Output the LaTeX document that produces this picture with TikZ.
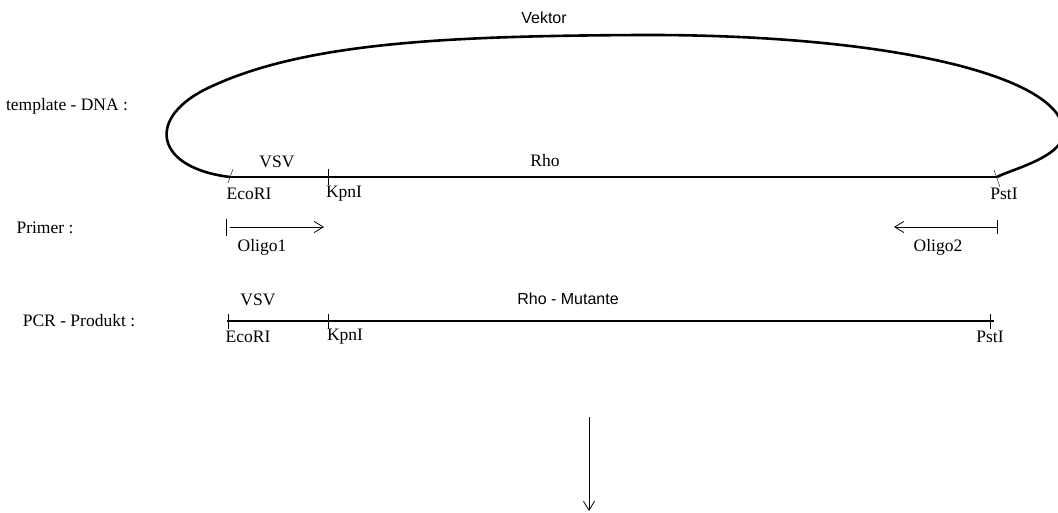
\documentclass[tikz,border=0pt]{standalone}
\usepackage{fontspec}
\setmainfont{Liberation Serif}
\newfontfamily\arial{Liberation Sans}
\usetikzlibrary{arrows.meta,calc}
\definecolor{thin}{RGB}{125,125,125}
\tikzset{
  lbl/.style={inner sep=0pt, font=\fontsize{17.5}{20}\selectfont},
  slbl/.style={inner sep=0pt, font=\arial\fontsize{16}{19}\selectfont},
  dna/.style={line width=2.6pt, black},
  pcr/.style={line width=2pt, black},
  site/.style={line width=0.7pt, thin},
  oligo/.style={line width=0.8pt, thin, -{Straight Barb[length=9pt,width=11pt,line width=0.8pt]}},
}
\begin{document}
\begin{tikzpicture}[x=1pt,y=-1pt]
\useasboundingbox (0,0) rectangle (1058,513);
\clip (0,0) rectangle (1058,513);

% row labels
\node[lbl] (tdna) at (67,106) {template - DNA :};
\node[lbl] (primer) at (45,228) {Primer :};
\node[lbl] (pcrl) at (79,321) {PCR - Produkt :};

% template: vector loop and insert
\coordinate (e1) at (230,177);
\coordinate (k1) at (328,177);
\coordinate (p1) at (997,177);
\draw[dna] (e1) .. controls (156,168) and (146,120) .. (204,90)
  .. controls (300,42) and (450,36) .. (640,35)
  .. controls (900,34) and (1080,80) .. (1062,140)
  .. controls (1052,160) and (1010,170) .. (p1);
\draw[dna] (e1) -- (p1);
\node[slbl] (vektor) at (544,18) {Vektor};
\node[lbl] (vsv1) at (277,162) {VSV};
\node[lbl] (rho1) at (545,161) {Rho};
\draw[site] ($(e1)+(3,-8)$) -- ($(e1)+(-2,6)$);
\draw[site] ($(k1)+(0,-8)$) -- ($(k1)+(0,8)$);
\draw[site] ($(p1)+(-3,-7)$) -- ($(p1)+(3,10)$);
\node[lbl] (eco1) at (249,194) {EcoRI};
\node[lbl] (kpn1) at (344,194) {KpnI};
\node[lbl] (pst1) at (1004,194) {PstI};

% primers
\coordinate (o1s) at (226,227);
\coordinate (o1e) at (324,227);
\coordinate (o2s) at (997,227);
\coordinate (o2e) at (894,227);
\draw[site] ($(o1s)+(0,-8)$) -- ($(o1s)+(0,9)$);
\draw[oligo] ($(o1s)+(4,0)$) -- (o1e);
\draw[site] ($(o2s)+(0,-7)$) -- ($(o2s)+(0,7)$);
\draw[oligo] (o2s) -- (o2e);
\node[lbl] (ol1) at (262,247) {Oligo1};
\node[lbl] (ol2) at (938,247) {Oligo2};

% PCR product
\coordinate (e2) at (227,321);
\coordinate (k2) at (328,321);
\coordinate (p2) at (994,321);
\draw[pcr] (e2) -- (p2);
\draw[site] ($(e2)+(1,-7)$) -- ($(e2)+(1,8)$);
\draw[site] ($(k2)+(0,-7)$) -- ($(k2)+(0,8)$);
\draw[site] ($(p2)+(-4,-7)$) -- ($(p2)+(-4,8)$);
\node[lbl] (vsv2) at (258,300) {VSV};
\node[slbl] (rhom) at (568,299) {Rho - Mutante};
\node[lbl] (eco2) at (248,337) {EcoRI};
\node[lbl] (kpn2) at (345,337) {KpnI};
\node[lbl] (pst2) at (990,337) {PstI};

% step arrow
\coordinate (a1) at (589,417);
\coordinate (a2) at (589,511);
\draw[oligo] (a1) -- (a2);
\end{tikzpicture}
\end{document}
